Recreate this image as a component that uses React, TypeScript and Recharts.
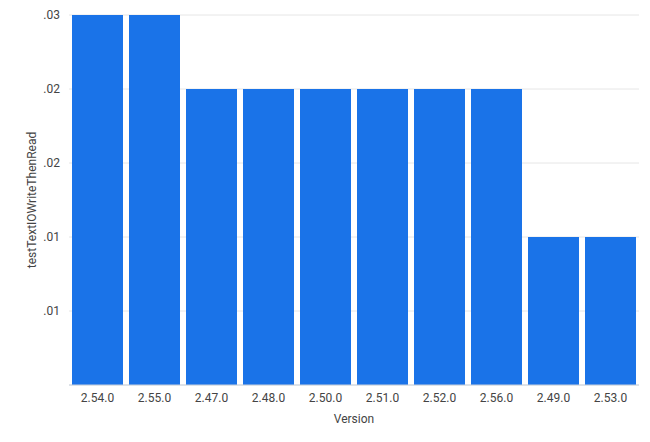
import { BarChart, Bar, XAxis, YAxis, CartesianGrid } from "recharts";

const versions = [
  "2.54.0",
  "2.55.0",
  "2.47.0",
  "2.48.0",
  "2.50.0",
  "2.51.0",
  "2.52.0",
  "2.56.0",
  "2.49.0",
  "2.53.0",
];
const durations = [0.03, 0.03, 0.024, 0.024, 0.024, 0.024, 0.024, 0.024, 0.012, 0.012];
const yTicks = [0, 0.006, 0.012, 0.018, 0.024, 0.03];

const data = versions.map((version, i) => ({ version, value: durations[i] }));

const tickStyle = { fill: "#444", fontSize: 12, fontFamily: "Roboto, sans-serif" };

function formatTick(v: number) {
  if (v === 0) return "";
  return v.toFixed(2).replace(/^0/, "");
}

export default function App() {
  return (
    <div style={{ position: "absolute", left: 0, top: 0, background: "#fff" }}>
      <BarChart
        width={650}
        height={442}
        data={data}
        margin={{ top: 15, right: 11, left: 0, bottom: 0 }}
        barCategoryGap={3}
      >
        <CartesianGrid vertical={false} stroke="#e6e6e6" />
        <XAxis
          dataKey="version"
          height={57}
          tickLine={false}
          stroke="#c8d1dc"
          tick={tickStyle}
          interval={0}
          label={{
            value: "Version",
            position: "center",
            dy: 5,
            fill: "#444",
            fontSize: 12,
            fontFamily: "Roboto, sans-serif",
          }}
        />
        <YAxis
          width={69}
          domain={[0, 0.03]}
          ticks={yTicks}
          tickFormatter={formatTick}
          axisLine={false}
          tickLine={false}
          tickMargin={3}
          tick={tickStyle}
          label={{
            value: "testTextIOWriteThenRead",
            angle: -90,
            position: "center",
            dx: -3,
            fill: "#444",
            fontSize: 12,
            fontFamily: "Roboto, sans-serif",
          }}
        />
        <Bar dataKey="value" fill="#1a73e8" isAnimationActive={false} />
      </BarChart>
    </div>
  );
}
